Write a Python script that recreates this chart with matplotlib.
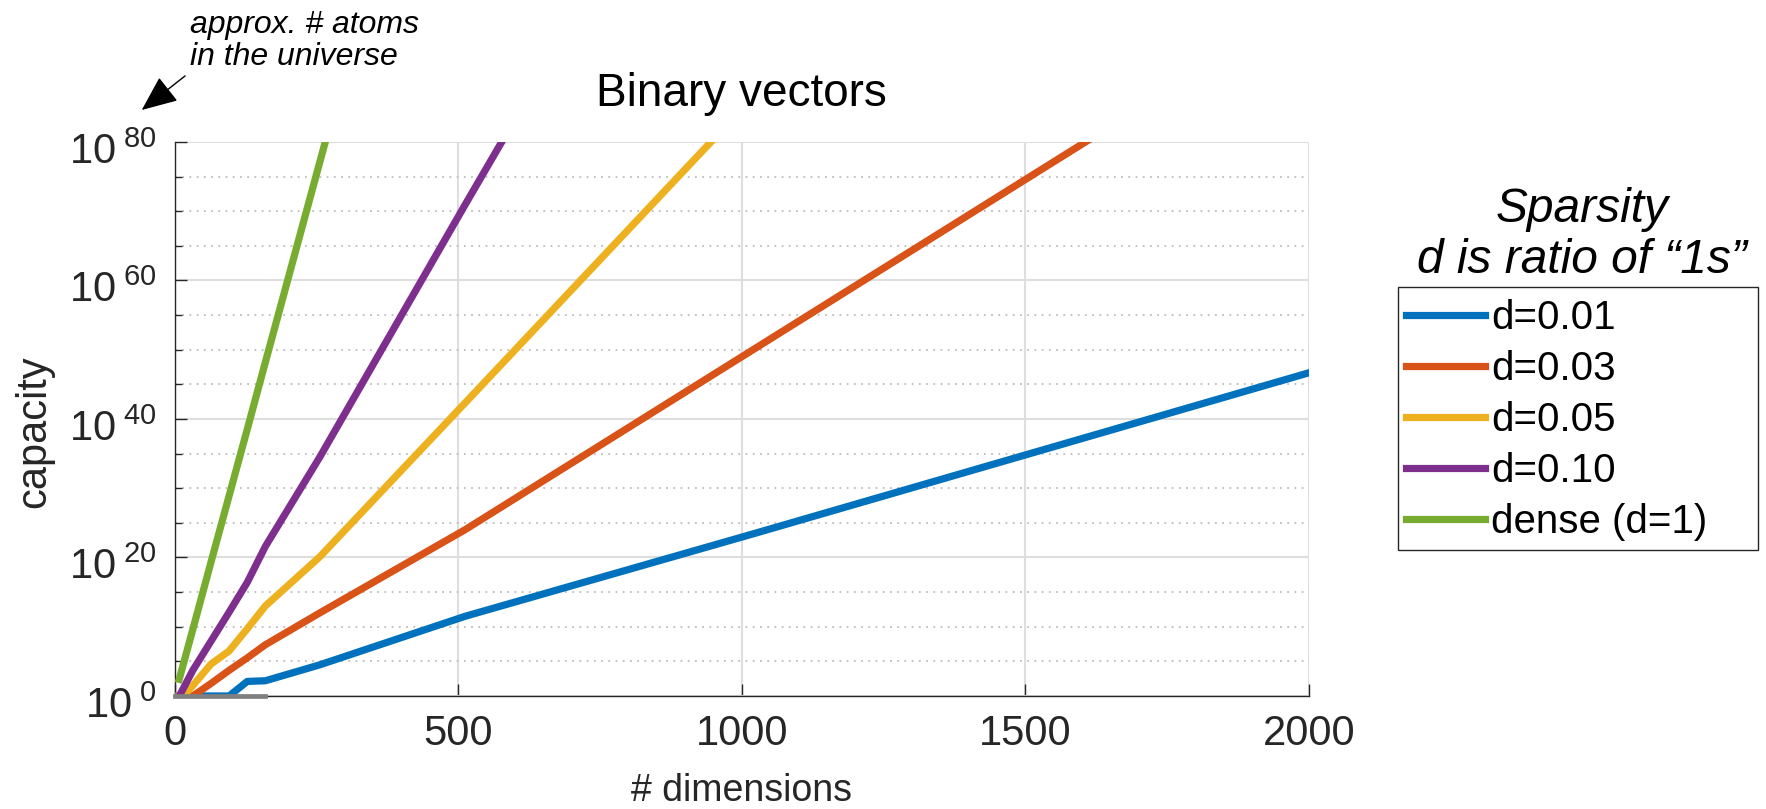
import matplotlib
matplotlib.use('Agg')
import matplotlib.pyplot as plt
import matplotlib.transforms as mtransforms
import numpy as np
from matplotlib.patches import Rectangle
from matplotlib.ticker import FixedLocator, FuncFormatter, NullFormatter

# vector length (number of dimensions)
dims = [8, 16, 32, 64, 96, 128, 160, 256, 512, 1024, 2048]

# log10 of the capacity for each sparsity level
cap_d001 = [0, 0, 0, 0, 0, 2.1, 2.2, 4.5, 11.5, 23.5, 47.8]
cap_d003 = [0, 0, 0, 1.8, 3.7, 5.5, 7.4, 12.0, 24.0, 50.2, 102.6]
cap_d005 = [0, 0, 1.5, 4.6, 6.5, 9.7, 13.0, 20.1, 42.3, 86.8, 174.7]
cap_d010 = [0, 1.2, 3.7, 7.9, 12.1, 16.4, 21.6, 34.5, 70.9, 142.8, 287.6]
cap_dense = [2.4, 4.8, 9.6, 19.3, 28.9, 38.5, 48.2, 77.1, 154.1]

labels = ['d=0.01', 'd=0.03', 'd=0.05', 'd=0.10', 'dense (d=1)']
colors = ['#0072BD', '#D95319', '#EDB120', '#7E2F8E', '#77AC30']

# grey baseline segment at capacity 1
base_x = [0, 160]
base_y = [1, 1]

plt.rcParams['font.family'] = ['Liberation Sans', 'DejaVu Sans']
plt.rcParams['mathtext.default'] = 'regular'

fig = plt.figure(figsize=(17.66, 8.09), dpi=100)
ax = fig.add_axes([0.0989, 0.1397, 0.6422, 0.6849])

series = [cap_d001, cap_d003, cap_d005, cap_d010, cap_dense]
for vals, lab, col in zip(series, labels, colors):
    ax.plot(dims[:len(vals)], np.power(10.0, vals), color=col, lw=5.2,
            label=lab, solid_joinstyle='round', zorder=3)

ax.plot(base_x, base_y, color='#808080', lw=3.4, solid_capstyle='projecting',
        clip_on=False, zorder=5)

ax.set_yscale('log')
ax.set_xlim(0, 2000)
ax.set_ylim(1, 1e80)
ax.set_xticks([0, 500, 1000, 1500, 2000])
ax.yaxis.set_major_locator(FixedLocator([10.0 ** e for e in range(0, 81, 20)]))
ax.yaxis.set_minor_locator(FixedLocator([10.0 ** e for e in range(0, 81, 5) if e % 20]))
ax.yaxis.set_major_formatter(FuncFormatter(lambda v, p: r'$10^{\;%d}$' % round(np.log10(v))))
ax.yaxis.set_minor_formatter(NullFormatter())

ax.set_axisbelow(True)
ax.grid(which='major', color='#dedede', lw=1.5)
ax.grid(which='minor', axis='y', color='#bdbdbd', lw=1.3, ls=(0, (1, 3)))

for s in ['top', 'right']:
    ax.spines[s].set_visible(False)
for s in ['left', 'bottom']:
    ax.spines[s].set_color('#262626')
    ax.spines[s].set_linewidth(1.0)

ax.tick_params(which='both', direction='in', colors='#262626', labelsize=30, pad=13)
ax.tick_params(which='major', length=8.6, width=1)
ax.tick_params(which='minor', length=5, width=1)

# power-of-ten labels: baseline of the "10" sits about 22 px under its tick
shift_down = mtransforms.ScaledTranslation(0, -22 / 100, fig.dpi_scale_trans)
for lab in ax.get_yticklabels():
    lab.set_va('baseline')
    lab.set_transform(lab.get_transform() + shift_down)

ax.set_title('Binary vectors', fontsize=33, pad=26)
ax.set_xlabel('# dimensions', fontsize=27, labelpad=14, color='#262626')
ax.set_ylabel('capacity', fontsize=30, color='#262626')
ax.yaxis.set_label_coords(-0.1062, 0.4765)

# legend entries without frame, box drawn separately so the title sits outside it
leg = ax.legend(loc='upper left', bbox_to_anchor=(1398 / 1766, 1 - 291 / 809),
                bbox_transform=fig.transFigure, borderaxespad=0, frameon=False,
                fontsize=29, handlelength=1.95, handletextpad=0.17, borderpad=0.2,
                labelspacing=0.325)
fig.add_artist(Rectangle((1398 / 1766, 1 - 550 / 809), 360 / 1766, 263 / 809,
                         transform=fig.transFigure, fill=False, ec='#262626', lw=1))

fig.text(1582 / 1766, 1 - 222 / 809, 'Sparsity', ha='center', va='baseline',
         fontsize=34.5, style='italic')
fig.text(1582 / 1766, 1 - 273 / 809, 'd is ratio of \u201c1s\u201d', ha='center',
         va='baseline', fontsize=34.5, style='italic')

ax.annotate('approx. # atoms\nin the universe', xy=(-0.029, 1.0576), xycoords='axes fraction',
            xytext=(0.0136, 1.1388), textcoords='axes fraction', ha='left', va='baseline',
            fontsize=23, style='italic', linespacing=1.1, annotation_clip=False,
            arrowprops=dict(arrowstyle='-|>,head_length=1.4,head_width=0.6',
                            mutation_scale=16, lw=1, color='k', relpos=(0, 0),
                            shrinkA=2, shrinkB=0))

fig.savefig('out.png', dpi=100)
